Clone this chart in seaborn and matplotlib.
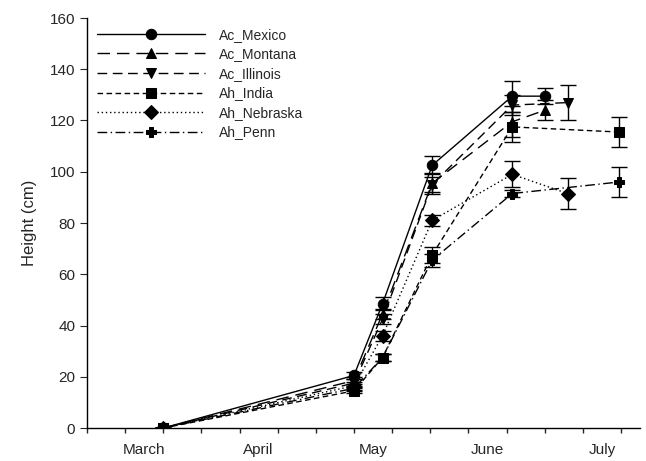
import numpy as np
import pandas as pd
import matplotlib
matplotlib.use("Agg")
import matplotlib.pyplot as plt
import seaborn as sns

# sampling days (days since 1 March)
days_common = [20, 70, 77.5, 90.5, 111.5]

populations = ["Ac_Mexico", "Ac_Montana", "Ac_Illinois", "Ah_India", "Ah_Nebraska", "Ah_Penn"]
last_day = [120, 120, 126, 139.5, 126, 139.5]

mexico = [0, 20.5, 48.5, 102.5, 129.5, 129.5]
montana = [0, 18.5, 44.5, 95.5, 119.5, 124]
illinois = [0, 17.5, 42.5, 95, 126, 127]
india = [0, 14.5, 27.5, 67.5, 117.5, 115.5]
nebraska = [0, 16.5, 36, 81, 99, 91.5]
penn = [0, 15.5, 27.5, 65.5, 91.5, 96]

mexico_err = [0, 1.5, 2.5, 3.5, 6, 3]
montana_err = [0, 1.5, 2, 4, 6, 4]
illinois_err = [0, 1.5, 2, 3, 4, 7]
india_err = [0, 1, 1.5, 3, 6, 6]
nebraska_err = [0, 1.5, 2, 2, 5, 6]
penn_err = [0, 1, 1.5, 2.5, 1.5, 6]

months = ["March", "April", "May", "June", "July"]

heights = [mexico, montana, illinois, india, nebraska, penn]
errors = [mexico_err, montana_err, illinois_err, india_err, nebraska_err, penn_err]

rows = []
for name, h, e, ld in zip(populations, heights, errors, last_day):
    for d, v, s in zip(days_common + [ld], h, e):
        rows.append({"day": d, "height": v, "err": s, "population": name})
df = pd.DataFrame(rows)

sns.set_style("ticks")
plt.rcParams["font.family"] = ["Liberation Sans", "DejaVu Sans"]

fig = plt.figure(figsize=(6.46, 4.61), dpi=100)
ax = fig.add_axes([87 / 646, 33 / 461, 553 / 646, 410 / 461])

markers = {"Ac_Mexico": "o", "Ac_Montana": "^", "Ac_Illinois": "v",
           "Ah_India": "s", "Ah_Nebraska": "D", "Ah_Penn": "P"}
dashes = {"Ac_Mexico": "", "Ac_Montana": (9, 5), "Ac_Illinois": (7, 4),
          "Ah_India": (4, 2.5), "Ah_Nebraska": (1, 2), "Ah_Penn": (7, 2.5, 1, 2.5)}
palette = {p: "black" for p in populations}

for name in populations:
    sub = df[df.population == name]
    ax.errorbar(sub["day"], sub["height"], yerr=sub["err"], fmt="none",
                ecolor="black", elinewidth=1, capsize=5.5, capthick=1, zorder=2)

sns.lineplot(data=df, x="day", y="height", hue="population", style="population",
             hue_order=populations, style_order=populations,
             palette=palette, markers=markers, dashes=dashes, sort=False,
             markersize=7.5, markeredgecolor="black", linewidth=1, ax=ax, zorder=3)

handles, labels = ax.get_legend_handles_labels()
ax.legend(handles, labels, loc="upper left", bbox_to_anchor=(0.0, 1.0),
          frameon=False, handlelength=7.8, fontsize=10, labelspacing=0.4,
          handletextpad=1.0, borderaxespad=0.3)

ax.set_xlim(0, 145)
ax.set_ylim(0, 160)
ax.set_yticks(np.arange(0, 161, 20))
ax.set_xticks(np.arange(0, 141, 10))
ax.set_xticklabels([""] * len(np.arange(0, 141, 10)))
for t, pos in zip(ax.xaxis.get_major_ticks(), np.arange(0, 141, 10)):
    t.tick1line.set_markersize(7 if pos % 30 == 0 else 4)
ax.set_xticks([15, 45, 75, 105, 135], minor=True)
ax.set_xticklabels(months, minor=True)
ax.tick_params(axis="x", which="minor", length=0, pad=11, labelsize=11)
ax.tick_params(axis="y", length=5, labelsize=11)
ax.tick_params(axis="x", which="major", width=1)

ax.set_xlabel("")
ax.set_ylabel("Height (cm)", fontsize=12, labelpad=9)
for s in ["top", "right"]:
    ax.spines[s].set_visible(False)
for s in ["left", "bottom"]:
    ax.spines[s].set_linewidth(1)
    ax.spines[s].set_color("black")

fig.savefig("out.png", dpi=100)
